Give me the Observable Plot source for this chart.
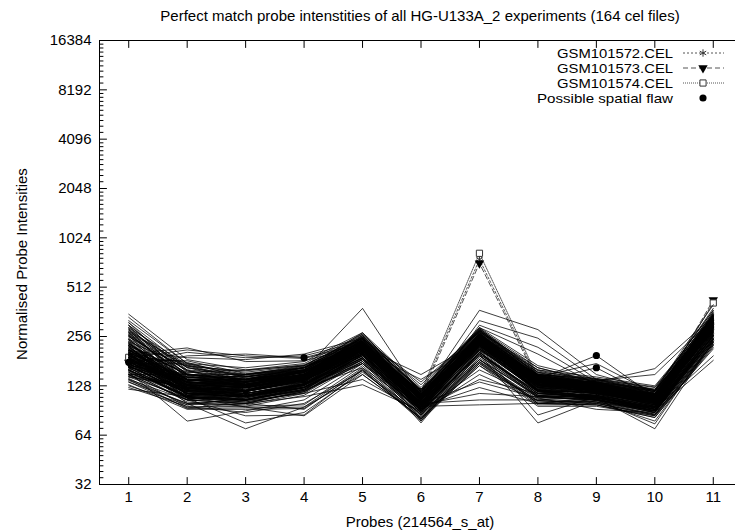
<!DOCTYPE html>
<html><head><meta charset="utf-8">
<script src="https://cdn.jsdelivr.net/npm/d3@7"></script>
<script src="https://cdn.jsdelivr.net/npm/@observablehq/plot@0.6"></script>
<style>
html,body{margin:0;padding:0;background:#fff;}
#wrap{position:relative;width:735px;height:532px;overflow:hidden;font-family:"Liberation Sans",Arial,sans-serif;color:#000;}
#title{position:absolute;left:420px;top:15px;transform:translate(-50%,-50%);font-size:15px;line-height:17px;white-space:nowrap;}
#chart{position:absolute;top:24px;left:0;}
#ylab{position:absolute;left:21px;top:264px;transform:translate(-50%,-50%) rotate(-90deg);font-size:15px;white-space:nowrap;}
#xlab{position:absolute;left:420px;top:521px;transform:translate(-50%,-50%);font-size:15px;white-space:nowrap;}
#legend{position:absolute;left:0;top:0;}
</style></head><body>
<div id="wrap">
<div id="title">Perfect match probe intenstities of all HG-U133A_2 experiments (164 cel files)</div>
<div id="chart"></div>
<div id="ylab">Normalised Probe Intensities</div>
<div id="xlab">Probes (214564_s_at)</div>
<svg id="legend" width="735" height="120"></svg>
</div>
<script>
const probes = [1,2,3,4,5,6,7,8,9,10,11];
const yTicks = [32,64,128,256,512,1024,2048,4096,8192,16384];
const minorSteps = [1.1,1.2,1.3,1.4,1.5,1.6,1.7,1.8,1.9];

// background experiments (one row per cel file, values at probes 1..11)
const experiments = [
[188,128,135,150,215,100,230,130,124,108,290],
[205,112,118,160,240,95,250,125,130,100,310],
[165,140,128,138,200,110,215,140,118,115,270],
[240,118,105,130,225,92,245,120,122,96,300],
[150,150,140,165,230,105,210,135,128,112,280],
[280,130,120,145,260,98,270,128,135,105,340],
[175,105,112,125,190,88,200,115,112,92,255],
[215,135,150,170,235,115,240,150,140,120,320],
[142,98,100,120,175,85,185,110,105,88,240],
[300,160,130,150,250,108,260,138,130,110,350],
[195,122,125,142,210,96,225,132,120,104,285],
[170,145,145,158,220,100,235,128,125,110,300],
[260,125,110,135,230,94,250,118,118,98,310],
[155,110,120,140,205,102,220,125,130,106,275],
[225,150,135,148,245,110,255,145,138,118,330],
[185,100,98,115,185,90,205,112,108,94,260],
[320,175,150,160,270,112,285,150,142,122,370],
[200,132,128,152,225,98,238,135,126,108,295],
[160,118,108,128,195,92,212,120,116,100,265],
[230,140,140,155,240,105,245,140,132,114,315],
[178,128,118,138,200,95,222,128,122,104,280],
[250,112,125,145,230,100,240,122,128,108,300],
[145,125,115,132,190,90,200,118,112,96,250],
[210,155,148,165,235,112,250,142,135,118,325],
[190,108,104,122,198,88,210,114,110,95,268],
[270,138,130,150,255,104,265,135,130,112,335],
[168,115,122,142,210,98,228,126,124,106,285],
[235,128,112,132,220,94,235,120,118,100,295],
[158,102,96,112,180,86,195,110,106,90,245],
[205,142,136,156,232,106,248,138,132,114,312],
[182,120,130,148,215,100,230,130,126,108,290],
[290,148,128,140,245,102,255,132,128,110,325],
[172,134,124,144,208,96,224,128,122,105,282],
[222,116,110,128,210,92,232,120,116,100,288],
[148,130,126,146,200,98,215,124,120,104,270],
[198,126,118,136,218,96,236,128,124,106,295],
[262,145,132,150,240,106,252,140,134,115,330],
[165,108,102,118,188,88,205,115,110,94,258],
[212,138,142,160,228,104,242,136,130,112,308],
[180,124,112,130,202,92,218,122,118,102,276],
[190,212,195,188,230,115,245,150,140,125,320],
[175,205,190,195,240,112,250,148,138,120,315],
[200,218,180,182,225,118,240,145,135,122,300],
[165,195,200,190,235,110,255,155,142,126,335],
[210,190,185,200,250,120,260,160,145,128,340],
[140,93,94,95,165,80,180,100,100,85,230],
[130,92,92,93,160,78,175,98,98,82,220],
[150,95,96,98,170,82,185,102,102,86,235],
[125,96,88,100,158,80,170,96,96,84,215],
[135,94,100,92,162,84,178,100,98,82,225],
[155,78,90,105,175,85,190,108,105,90,245],
[138,100,70,95,150,82,170,104,100,85,230],
[145,108,76,88,155,86,180,106,102,88,240],
[150,105,84,85,160,80,185,100,98,84,225],
[160,110,95,84,150,82,175,104,100,86,235],
[230,150,140,160,380,110,260,140,132,112,310],
[140,105,100,110,130,90,160,110,106,92,240],
[135,100,104,115,140,88,150,104,102,90,230],
[122,110,115,130,175,95,195,118,112,98,255],
[128,98,108,125,165,92,185,112,108,95,245],
[170,120,110,125,190,76,205,115,110,90,260],
[180,115,105,120,200,78,215,118,112,88,265],
[190,125,112,130,205,80,225,120,115,92,275],
[195,140,130,150,220,150,240,130,125,110,290],
[185,135,125,145,210,140,230,125,120,112,285],
[210,140,130,150,230,110,370,282,150,120,320],
[200,130,125,145,220,105,320,250,140,115,310],
[190,125,120,140,215,100,300,220,135,112,300],
[205,135,130,150,225,108,290,200,130,110,305],
[170,115,110,130,190,100,105,105,110,95,260],
[165,110,105,125,185,96,98,100,108,92,255],
[175,120,115,135,195,98,115,110,112,96,265],
[160,108,104,120,180,95,125,100,105,90,250],
[180,125,118,138,200,100,135,108,115,98,270],
[155,105,100,118,175,92,140,115,108,94,245],
[170,115,110,130,195,92,200,76,105,90,250],
[175,120,112,132,200,95,210,85,110,92,260],
[185,125,120,140,210,100,230,140,196,110,290],
[180,120,118,138,205,98,225,135,165,108,285],
[190,128,122,142,215,102,235,145,175,115,300],
[165,112,108,125,190,92,205,108,92,88,250],
[170,115,110,130,195,92,215,120,108,70,240],
[175,118,112,132,200,95,220,118,105,75,245],
[160,110,105,125,185,88,205,112,102,78,235],
[190,130,125,145,215,105,235,140,135,163,340],
[200,135,128,148,220,108,240,142,138,150,330],
[150,105,100,118,180,88,195,110,105,90,183],
[160,110,105,122,185,90,200,112,108,92,195],
[220,140,130,150,230,108,250,140,135,120,400],
[210,135,128,148,225,105,245,138,132,118,380],
[350,185,160,170,260,118,280,160,135,115,360],
[335,175,165,180,270,125,290,170,140,120,370],
[310,165,150,165,250,112,275,150,130,110,345],
[300,155,160,175,265,120,285,165,136,118,355],
[285,150,140,155,245,108,265,145,126,106,330],
[275,170,155,170,255,130,280,158,132,114,350],
[265,145,135,150,240,104,270,140,128,108,335],
[255,160,150,165,250,122,278,155,130,112,345],
[245,135,130,148,235,100,260,135,122,104,325],
[238,168,158,172,248,135,272,165,134,116,340],
[232,130,125,142,228,98,255,130,118,100,315],
[226,150,145,160,238,115,265,148,126,108,330],
[220,125,120,138,222,96,248,128,116,98,310],
[215,145,140,155,232,110,258,142,124,106,322],
[208,120,115,132,218,94,242,124,114,96,305],
[203,140,135,150,226,108,252,140,120,104,318],
[198,115,110,128,212,92,236,120,110,94,298],
[194,135,130,146,220,105,246,136,118,102,312],
[188,110,106,124,205,90,230,116,108,92,290],
[184,130,125,142,214,102,240,132,116,100,305],
[312,140,132,145,235,106,262,140,124,104,320],
[298,132,126,140,228,102,255,135,120,102,312],
[284,126,120,135,220,98,248,130,116,98,302],
[272,120,115,130,214,95,240,126,112,96,295],
[258,114,110,126,208,92,234,122,108,94,288],
[246,108,105,122,202,90,228,118,106,92,280],
[236,118,124,142,222,108,250,136,122,104,310],
[224,112,118,136,216,104,244,132,118,100,300],
[214,122,128,148,226,112,254,140,124,106,315],
[202,106,112,130,210,100,238,128,114,96,292],
[192,114,120,138,218,106,246,134,120,102,305],
[176,108,114,134,212,102,240,130,116,98,298],
[168,118,126,146,222,110,250,138,122,104,310],
[158,112,120,140,214,105,244,134,118,100,300],
[152,122,130,150,226,114,256,142,124,106,318],
[146,126,134,155,232,118,262,146,128,108,325],
[230,148,145,162,250,120,275,150,130,112,345],
[218,140,138,156,242,116,268,146,126,108,335],
[206,134,132,152,236,112,262,142,122,106,326],
[196,128,126,146,228,108,255,138,118,102,318],
[186,122,120,142,222,104,248,134,114,100,310],
[260,158,140,158,258,118,282,148,128,110,352],
[248,152,135,154,250,114,276,144,124,108,342],
[272,165,146,165,264,122,288,154,132,114,362],
[226,134,136,160,246,118,272,148,128,110,338],
[212,128,130,156,238,114,266,144,124,108,328],
[200,122,125,150,230,110,258,140,120,104,318],
[244,140,140,166,252,120,278,152,132,112,348],
[178,150,150,168,230,118,250,148,128,110,320],
[172,144,145,164,226,114,246,144,124,106,312],
[166,138,140,158,220,110,240,140,120,104,305],
[162,132,136,154,216,108,236,136,118,102,300],
[205,108,102,116,200,94,225,120,104,88,275],
[215,112,106,120,206,96,232,124,106,90,282],
[225,116,110,125,212,98,238,126,108,92,290],
[235,120,115,130,218,100,244,130,110,94,298],
[192,134,110,126,196,96,220,122,106,90,270],
[182,130,106,122,190,94,214,120,104,88,262],
[200,170,135,150,215,108,225,138,120,102,280],
[195,178,142,156,222,112,232,144,125,106,290],
[185,182,152,166,228,116,240,150,130,110,300],
[176,174,146,160,220,114,235,146,126,108,292],
[290,172,138,154,252,112,270,146,126,108,345],
[280,166,134,150,246,110,264,142,122,106,338],
[268,158,130,146,240,108,258,138,120,104,330],
[256,152,126,142,234,106,252,134,118,102,322],
[186,138,134,154,210,110,228,142,122,104,288],
[176,134,130,150,204,108,222,138,118,102,280],
[206,144,138,158,216,112,234,146,126,108,296],
[196,140,136,156,212,110,230,144,124,106,292]
];

// highlighted experiments
const hiNames = ["GSM101572.CEL","GSM101573.CEL","GSM101574.CEL"];
const gsm101572 = [185,128,122,140,215,114,756,140,124,106,415];
const gsm101573 = [178,125,118,138,210,110,716,136,120,104,428];
const gsm101574 = [191,130,124,142,220,118,824,144,126,108,410];

// possible spatial flaws
const flawProbe = [1,4,9,9];
const flawValue = [178,190,196,165];

const bg = experiments.flatMap((vals,i)=>vals.map((v,j)=>({id:i,probe:probes[j],value:v})));
const toRows = vals => vals.map((v,j)=>({probe:probes[j],value:v}));
const h72 = toRows(gsm101572), h73 = toRows(gsm101573), h74 = toRows(gsm101574);
const flaws = flawProbe.map((p,i)=>({probe:p,value:flawValue[i]}));
const yMinor = yTicks.slice(0,-1).flatMap(t=>minorSteps.map(m=>t*m));

const tickShape = {draw(ctx,l){ctx.moveTo(0,0);ctx.lineTo(0,-l);}};
const hiStroke = "#555";

const chart = Plot.plot({
  width:735, height:508,
  marginLeft:99, marginRight:0, marginTop:16, marginBottom:48,
  x:{type:"linear", domain:[0.5,11.5], range:[99,742]},
  y:{type:"log", base:2, domain:[32,16384], range:[460,16]},
  style:{fontFamily:"'Liberation Sans',Arial,sans-serif", fontSize:"15px", color:"#000", background:"#fff", overflow:"hidden"},
  marks:[
    Plot.line(h72,{x:"probe",y:"value",stroke:hiStroke,strokeWidth:1,strokeDasharray:"2,2"}),
    Plot.line(h73,{x:"probe",y:"value",stroke:hiStroke,strokeWidth:1,strokeDasharray:"5,3"}),
    Plot.line(h74,{x:"probe",y:"value",stroke:hiStroke,strokeWidth:1,strokeDasharray:"1,1"}),
    Plot.dot(h72,{x:"probe",y:"value",symbol:"asterisk",r:3.5,stroke:"#333",strokeWidth:1}),
    Plot.dot(h73,{x:"probe",y:"value",symbol:"triangle",r:3.5,fill:"#000",stroke:"none",rotate:180}),
    Plot.dot(h74,{x:"probe",y:"value",symbol:"square",r:3.5,fill:"#fff",stroke:"#333",strokeWidth:1}),
    Plot.line(bg,{x:"probe",y:"value",z:"id",stroke:"#000",strokeWidth:0.85,strokeOpacity:0.9}),
    Plot.dot(flaws,{x:"probe",y:"value",r:3.6,fill:"#000",stroke:"none"}),
    Plot.ruleY([32,16384],{stroke:"#000",strokeWidth:1}),
    Plot.ruleX([0.5],{stroke:"#000",strokeWidth:1}),
    Plot.vector(yTicks,{x:0.5,y:d=>d,length:7,rotate:90,anchor:"start",shape:tickShape,stroke:"#000",strokeWidth:1}),
    Plot.vector(yMinor,{x:0.5,y:d=>d,length:3.5,rotate:90,anchor:"start",shape:tickShape,stroke:"#000",strokeWidth:1}),
    Plot.vector(probes,{x:d=>d,y:32,length:7,rotate:0,anchor:"start",shape:tickShape,stroke:"#000",strokeWidth:1}),
    Plot.vector(probes,{x:d=>d,y:16384,length:7,rotate:180,anchor:"start",shape:tickShape,stroke:"#000",strokeWidth:1}),
    Plot.axisX(probes,{tickSize:0,tickPadding:7,label:null,fontSize:15}),
    Plot.axisY(yTicks,{tickSize:0,tickPadding:8,label:null,tickFormat:d=>String(d),fontSize:15})
  ]
});
document.getElementById("chart").appendChild(chart);

// legend
const lg = d3.select("#legend");
const rowsY = [53,68,83,98];
const dashes = ["2,2","5,3","1,1"];
const legendNames = hiNames.concat(["Possible spatial flaw"]);
const legendWidths = [116,116,116,136];
legendNames.forEach((name,i)=>{
  const y = rowsY[i];
  lg.append("text").attr("x",673).attr("y",y).attr("dy","0.36em").attr("text-anchor","end")
    .attr("font-family","'Liberation Sans',Arial,sans-serif").attr("font-size",13)
    .attr("textLength",legendWidths[i]).attr("lengthAdjust","spacingAndGlyphs").text(name);
  if(i<3){
    lg.append("line").attr("x1",683).attr("x2",724).attr("y1",y).attr("y2",y)
      .attr("stroke",hiStroke).attr("stroke-dasharray",dashes[i]);
  }
  const sym = [d3.symbolAsterisk,d3.symbolTriangle,d3.symbolSquare,d3.symbolCircle][i];
  const p = lg.append("path").attr("d",d3.symbol(sym, i===3?40:38)())
    .attr("transform",`translate(703,${y})${i===1?" rotate(180)":""}`);
  if(i===0) p.attr("fill","none").attr("stroke","#333");
  else if(i===2) p.attr("fill","#fff").attr("stroke","#333");
  else p.attr("fill","#000");
});
</script>
</body></html>
